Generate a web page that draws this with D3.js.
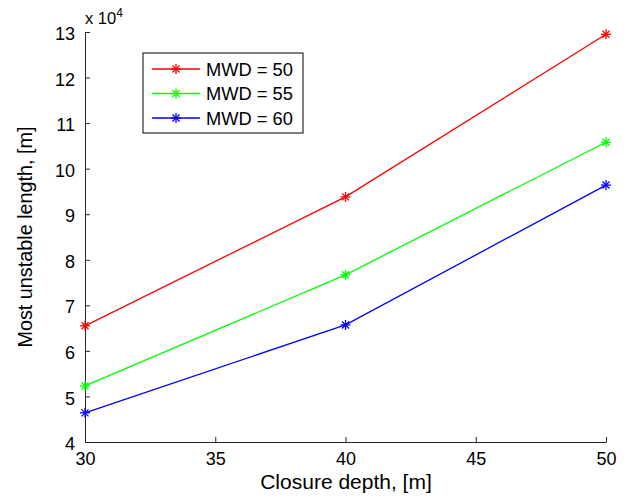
<!DOCTYPE html>
<html><head><meta charset="utf-8">
<script src="https://cdn.jsdelivr.net/npm/d3@7"></script>
<style>body{margin:0;background:#fff}svg{font-family:"Liberation Sans",Arial,sans-serif}</style>
</head><body>
<svg id="c" width="629" height="498"></svg>
<script>
const depths = [30, 40, 50];
const seriesNames = ["MWD = 50", "MWD = 55", "MWD = 60"];
const mwd50 = [6.55, 9.38, 12.95];
const mwd55 = [5.23, 7.67, 10.58];
const mwd60 = [4.64, 6.57, 9.64];
const colors = ["#ff0000", "#00ff00", "#0000ff"];
const xTicks = [30, 35, 40, 45, 50];
const yTicks = [4, 5, 6, 7, 8, 9, 10, 11, 12, 13];

const svg = d3.select("#c");
const x = d3.scaleLinear().domain([30, 50]).range([85, 606]);
const y = d3.scaleLinear().domain([4, 13]).range([442, 32]);

// axes
const xa = svg.append("g").attr("transform", "translate(0,442)")
  .call(d3.axisBottom(x).tickValues(xTicks).tickSizeInner(-5).tickSizeOuter(0));
const ya = svg.append("g").attr("transform", "translate(85,0)")
  .call(d3.axisLeft(y).tickValues(yTicks).tickSizeInner(-5).tickSizeOuter(0).tickPadding(10));
[xa, ya].forEach(a => {
  a.selectAll("path,line").attr("stroke", "#262626").attr("stroke-width", 1);
  a.selectAll("text").attr("font-size", 18).attr("fill", "#000").attr("font-family", "Liberation Sans, Arial, sans-serif");
});
xa.selectAll("text").attr("y", 23).attr("dy", 0);
ya.selectAll("text").attr("dy", "0.42em");

// exponent
const ex = svg.append("text").attr("x", 85).attr("y", 24).attr("font-size", 16.5);
ex.append("tspan").text("x 10");
ex.append("tspan").attr("font-size", 12).attr("dy", -7).text("4");

// axis labels
svg.append("text").attr("x", 346).attr("y", 489).attr("text-anchor", "middle")
  .attr("font-size", 21).text("Closure depth, [m]");
svg.append("text").attr("transform", "translate(32,237) rotate(-90)").attr("text-anchor", "middle")
  .attr("font-size", 19.8).text("Most unstable length, [m]");

const all = [mwd50, mwd55, mwd60];
const line = d3.line().x((d, i) => x(depths[i])).y(d => y(d));
function star(g, cx, cy, col) {
  const r = 5, q = 3.5;
  g.append("line").attr("x1", cx - r).attr("x2", cx + r).attr("y1", cy).attr("y2", cy).attr("stroke", col);
  g.append("line").attr("x1", cx).attr("x2", cx).attr("y1", cy - r).attr("y2", cy + r).attr("stroke", col);
  g.append("line").attr("x1", cx - q).attr("x2", cx + q).attr("y1", cy - q).attr("y2", cy + q).attr("stroke", col);
  g.append("line").attr("x1", cx - q).attr("x2", cx + q).attr("y1", cy + q).attr("y2", cy - q).attr("stroke", col);
}
all.forEach((s, k) => {
  svg.append("path").datum(s).attr("d", line).attr("fill", "none").attr("stroke", colors[k]).attr("stroke-width", 1.3);
  const g = svg.append("g").attr("stroke-width", 1.3);
  s.forEach((v, i) => star(g, x(depths[i]), y(v), colors[k]));
});

// legend
const lg = svg.append("g");
lg.append("rect").attr("x", 143).attr("y", 53).attr("width", 160).attr("height", 80)
  .attr("fill", "#fff").attr("stroke", "#000").attr("stroke-width", 1);
seriesNames.forEach((n, k) => {
  const yy = 69 + k * 24.5;
  lg.append("line").attr("x1", 152).attr("x2", 200).attr("y1", yy).attr("y2", yy).attr("stroke", colors[k]).attr("stroke-width", 1.3);
  const g = lg.append("g").attr("stroke-width", 1.3);
  star(g, 176, yy, colors[k]);
  lg.append("text").attr("x", 206).attr("y", yy + 6.5).attr("font-size", 18.3).text(n);
});
</script>
</body></html>
